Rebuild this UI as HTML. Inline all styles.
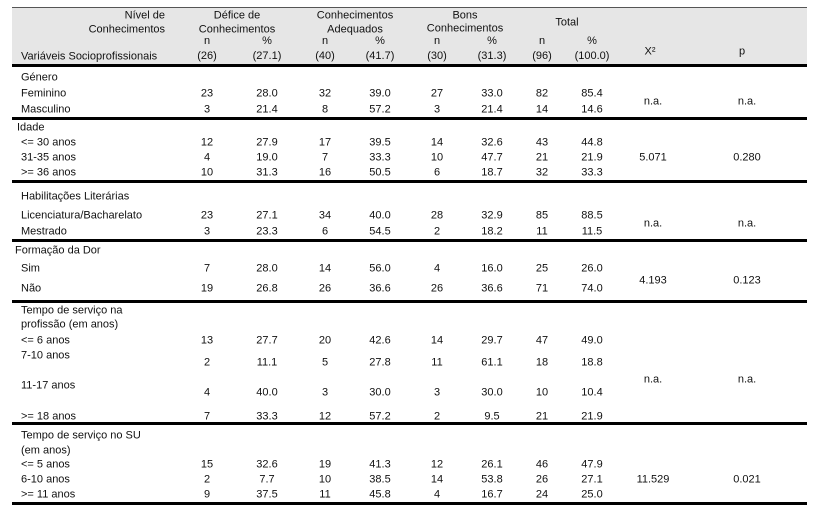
<!DOCTYPE html>
<html><head><meta charset="utf-8"><style>
body{margin:0;width:820px;height:513px;background:#fff;position:relative;overflow:hidden;font-family:"Liberation Sans",sans-serif;font-size:11px;color:#111}
.c{position:absolute;white-space:nowrap;transform:translate(-50%,-50%);text-align:center;line-height:13px}
.l{position:absolute;white-space:nowrap;transform:translateY(-50%);line-height:13px}
.r{position:absolute;white-space:nowrap;transform:translate(-100%,-50%);text-align:right;line-height:13px}
.hd{line-height:15px}
.h{position:absolute;left:12px;width:795px;background:#000}
</style></head><body>
<div style="position:absolute;left:12px;top:7px;width:795px;height:57px;background:#e6e6e6;border-top:1px solid #555"></div>
<div class="h" style="top:64px;height:3px"></div>
<div class="h" style="top:117px;height:3px"></div>
<div class="h" style="top:180px;height:3px"></div>
<div class="h" style="top:239px;height:3px"></div>
<div class="h" style="top:300px;height:3px"></div>
<div class="h" style="top:422px;height:3px"></div>
<div class="h" style="top:502px;height:3px"></div>

<div class="r" style="left:165px;top:16px">Nível de</div>
<div class="r" style="left:165px;top:30px">Conhecimentos</div>
<div class="l" style="left:21px;top:57px">Variáveis Socioprofissionais</div>
<div class="c" style="left:237px;top:16px">Défice de</div>
<div class="c" style="left:237px;top:30px">Conhecimentos</div>
<div class="c" style="left:355px;top:16px">Conhecimentos</div>
<div class="c" style="left:355px;top:30px">Adequados</div>
<div class="c" style="left:465px;top:16px">Bons</div>
<div class="c" style="left:465px;top:29px">Conhecimentos</div>
<div class="c" style="left:567px;top:23px">Total</div>
<div class="c hd" style="left:207px;top:49px">n<br>(26)</div>
<div class="c hd" style="left:267px;top:49px">%<br>(27.1)</div>
<div class="c hd" style="left:325px;top:49px">n<br>(40)</div>
<div class="c hd" style="left:380px;top:49px">%<br>(41.7)</div>
<div class="c hd" style="left:437px;top:49px">n<br>(30)</div>
<div class="c hd" style="left:492px;top:49px">%<br>(31.3)</div>
<div class="c hd" style="left:542px;top:49px">n<br>(96)</div>
<div class="c hd" style="left:592px;top:49px">%<br>(100.0)</div>
<div class="c" style="left:650px;top:52px">X²</div>
<div class="c" style="left:742px;top:52px">p</div>

<div class="l" style="left:21px;top:78px">Género</div>
<div class="l" style="left:21px;top:94px">Feminino</div>
<div class="l" style="left:21px;top:110px">Masculino</div>
<div class="c" style="left:207px;top:94px">23</div><div class="c" style="left:267px;top:94px">28.0</div><div class="c" style="left:325px;top:94px">32</div><div class="c" style="left:380px;top:94px">39.0</div><div class="c" style="left:437px;top:94px">27</div><div class="c" style="left:492px;top:94px">33.0</div><div class="c" style="left:542px;top:94px">82</div><div class="c" style="left:592px;top:94px">85.4</div>
<div class="c" style="left:207px;top:110px">3</div><div class="c" style="left:267px;top:110px">21.4</div><div class="c" style="left:325px;top:110px">8</div><div class="c" style="left:380px;top:110px">57.2</div><div class="c" style="left:437px;top:110px">3</div><div class="c" style="left:492px;top:110px">21.4</div><div class="c" style="left:542px;top:110px">14</div><div class="c" style="left:592px;top:110px">14.6</div>
<div class="c" style="left:653px;top:102px">n.a.</div><div class="c" style="left:747px;top:102px">n.a.</div>

<div class="l" style="left:17px;top:128px">Idade</div>
<div class="l" style="left:21px;top:143px">&lt;= 30 anos</div>
<div class="l" style="left:21px;top:158px">31-35 anos</div>
<div class="l" style="left:21px;top:173px">&gt;= 36 anos</div>
<div class="c" style="left:207px;top:143px">12</div><div class="c" style="left:267px;top:143px">27.9</div><div class="c" style="left:325px;top:143px">17</div><div class="c" style="left:380px;top:143px">39.5</div><div class="c" style="left:437px;top:143px">14</div><div class="c" style="left:492px;top:143px">32.6</div><div class="c" style="left:542px;top:143px">43</div><div class="c" style="left:592px;top:143px">44.8</div>
<div class="c" style="left:207px;top:158px">4</div><div class="c" style="left:267px;top:158px">19.0</div><div class="c" style="left:325px;top:158px">7</div><div class="c" style="left:380px;top:158px">33.3</div><div class="c" style="left:437px;top:158px">10</div><div class="c" style="left:492px;top:158px">47.7</div><div class="c" style="left:542px;top:158px">21</div><div class="c" style="left:592px;top:158px">21.9</div>
<div class="c" style="left:207px;top:173px">10</div><div class="c" style="left:267px;top:173px">31.3</div><div class="c" style="left:325px;top:173px">16</div><div class="c" style="left:380px;top:173px">50.5</div><div class="c" style="left:437px;top:173px">6</div><div class="c" style="left:492px;top:173px">18.7</div><div class="c" style="left:542px;top:173px">32</div><div class="c" style="left:592px;top:173px">33.3</div>
<div class="c" style="left:653px;top:158px">5.071</div><div class="c" style="left:747px;top:158px">0.280</div>

<div class="l" style="left:21px;top:197px">Habilitações Literárias</div>
<div class="l" style="left:21px;top:216px">Licenciatura/Bacharelato</div>
<div class="l" style="left:21px;top:232px">Mestrado</div>
<div class="c" style="left:207px;top:216px">23</div><div class="c" style="left:267px;top:216px">27.1</div><div class="c" style="left:325px;top:216px">34</div><div class="c" style="left:380px;top:216px">40.0</div><div class="c" style="left:437px;top:216px">28</div><div class="c" style="left:492px;top:216px">32.9</div><div class="c" style="left:542px;top:216px">85</div><div class="c" style="left:592px;top:216px">88.5</div>
<div class="c" style="left:207px;top:232px">3</div><div class="c" style="left:267px;top:232px">23.3</div><div class="c" style="left:325px;top:232px">6</div><div class="c" style="left:380px;top:232px">54.5</div><div class="c" style="left:437px;top:232px">2</div><div class="c" style="left:492px;top:232px">18.2</div><div class="c" style="left:542px;top:232px">11</div><div class="c" style="left:592px;top:232px">11.5</div>
<div class="c" style="left:653px;top:224px">n.a.</div><div class="c" style="left:747px;top:224px">n.a.</div>

<div class="l" style="left:15px;top:251px">Formação da Dor</div>
<div class="l" style="left:21px;top:269px">Sim</div>
<div class="l" style="left:21px;top:289px">Não</div>
<div class="c" style="left:207px;top:269px">7</div><div class="c" style="left:267px;top:269px">28.0</div><div class="c" style="left:325px;top:269px">14</div><div class="c" style="left:380px;top:269px">56.0</div><div class="c" style="left:437px;top:269px">4</div><div class="c" style="left:492px;top:269px">16.0</div><div class="c" style="left:542px;top:269px">25</div><div class="c" style="left:592px;top:269px">26.0</div>
<div class="c" style="left:207px;top:289px">19</div><div class="c" style="left:267px;top:289px">26.8</div><div class="c" style="left:325px;top:289px">26</div><div class="c" style="left:380px;top:289px">36.6</div><div class="c" style="left:437px;top:289px">26</div><div class="c" style="left:492px;top:289px">36.6</div><div class="c" style="left:542px;top:289px">71</div><div class="c" style="left:592px;top:289px">74.0</div>
<div class="c" style="left:653px;top:281px">4.193</div><div class="c" style="left:747px;top:281px">0.123</div>

<div class="l" style="left:21px;top:311px">Tempo de serviço na</div>
<div class="l" style="left:21px;top:325px">profissão (em anos)</div>
<div class="l" style="left:21px;top:341px">&lt;= 6 anos</div>
<div class="l" style="left:21px;top:356px">7-10 anos</div>
<div class="l" style="left:21px;top:386px">11-17 anos</div>
<div class="l" style="left:21px;top:417px">&gt;= 18 anos</div>
<div class="c" style="left:207px;top:341px">13</div><div class="c" style="left:267px;top:341px">27.7</div><div class="c" style="left:325px;top:341px">20</div><div class="c" style="left:380px;top:341px">42.6</div><div class="c" style="left:437px;top:341px">14</div><div class="c" style="left:492px;top:341px">29.7</div><div class="c" style="left:542px;top:341px">47</div><div class="c" style="left:592px;top:341px">49.0</div>
<div class="c" style="left:207px;top:363px">2</div><div class="c" style="left:267px;top:363px">11.1</div><div class="c" style="left:325px;top:363px">5</div><div class="c" style="left:380px;top:363px">27.8</div><div class="c" style="left:437px;top:363px">11</div><div class="c" style="left:492px;top:363px">61.1</div><div class="c" style="left:542px;top:363px">18</div><div class="c" style="left:592px;top:363px">18.8</div>
<div class="c" style="left:207px;top:393px">4</div><div class="c" style="left:267px;top:393px">40.0</div><div class="c" style="left:325px;top:393px">3</div><div class="c" style="left:380px;top:393px">30.0</div><div class="c" style="left:437px;top:393px">3</div><div class="c" style="left:492px;top:393px">30.0</div><div class="c" style="left:542px;top:393px">10</div><div class="c" style="left:592px;top:393px">10.4</div>
<div class="c" style="left:207px;top:417px">7</div><div class="c" style="left:267px;top:417px">33.3</div><div class="c" style="left:325px;top:417px">12</div><div class="c" style="left:380px;top:417px">57.2</div><div class="c" style="left:437px;top:417px">2</div><div class="c" style="left:492px;top:417px">9.5</div><div class="c" style="left:542px;top:417px">21</div><div class="c" style="left:592px;top:417px">21.9</div>
<div class="c" style="left:653px;top:380px">n.a.</div><div class="c" style="left:747px;top:380px">n.a.</div>

<div class="l" style="left:21px;top:436px">Tempo de serviço no SU</div>
<div class="l" style="left:21px;top:451px">(em anos)</div>
<div class="l" style="left:21px;top:465px">&lt;= 5 anos</div>
<div class="l" style="left:21px;top:480px">6-10 anos</div>
<div class="l" style="left:21px;top:495px">&gt;= 11 anos</div>
<div class="c" style="left:207px;top:465px">15</div><div class="c" style="left:267px;top:465px">32.6</div><div class="c" style="left:325px;top:465px">19</div><div class="c" style="left:380px;top:465px">41.3</div><div class="c" style="left:437px;top:465px">12</div><div class="c" style="left:492px;top:465px">26.1</div><div class="c" style="left:542px;top:465px">46</div><div class="c" style="left:592px;top:465px">47.9</div>
<div class="c" style="left:207px;top:480px">2</div><div class="c" style="left:267px;top:480px">7.7</div><div class="c" style="left:325px;top:480px">10</div><div class="c" style="left:380px;top:480px">38.5</div><div class="c" style="left:437px;top:480px">14</div><div class="c" style="left:492px;top:480px">53.8</div><div class="c" style="left:542px;top:480px">26</div><div class="c" style="left:592px;top:480px">27.1</div>
<div class="c" style="left:207px;top:495px">9</div><div class="c" style="left:267px;top:495px">37.5</div><div class="c" style="left:325px;top:495px">11</div><div class="c" style="left:380px;top:495px">45.8</div><div class="c" style="left:437px;top:495px">4</div><div class="c" style="left:492px;top:495px">16.7</div><div class="c" style="left:542px;top:495px">24</div><div class="c" style="left:592px;top:495px">25.0</div>
<div class="c" style="left:653px;top:480px">11.529</div><div class="c" style="left:747px;top:480px">0.021</div>
</body></html>
